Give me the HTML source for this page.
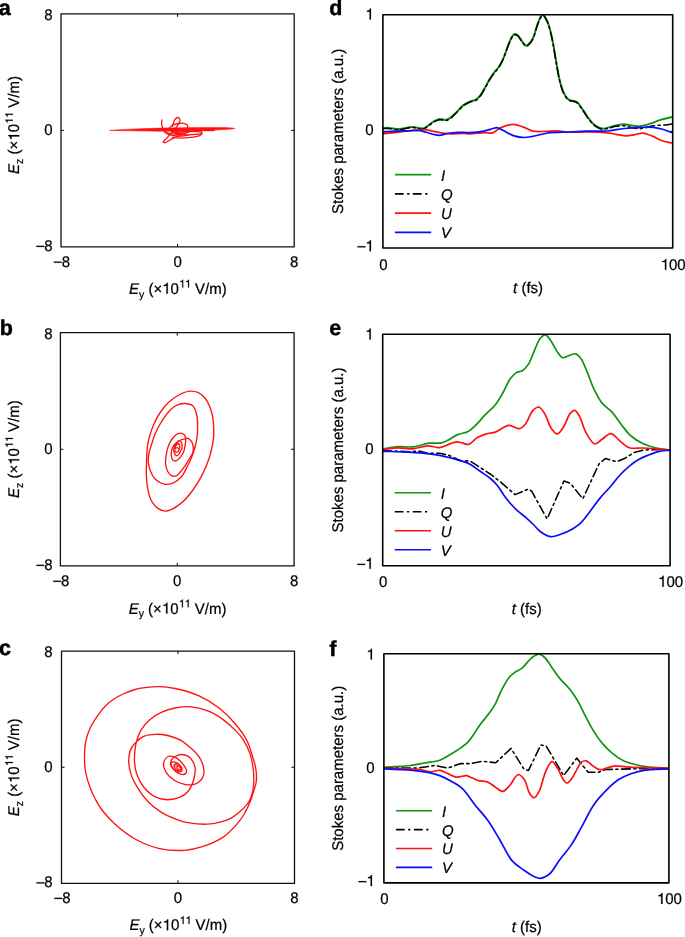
<!DOCTYPE html>
<html><head><meta charset="utf-8"><style>
html,body{margin:0;padding:0;background:#fff;}
body{width:685px;height:937px;overflow:hidden;}
svg{display:block;font-family:"Liberation Sans", sans-serif;}
svg{will-change:transform;text-rendering:geometricPrecision;}
</style></head><body>
<svg width="685" height="937" viewBox="0 0 685 937">
<rect width="685" height="937" fill="#fff"/>
<rect x="61.00" y="13.80" width="233.20" height="233.10" fill="none" stroke="#111" stroke-width="1.3" stroke-linejoin="round"/>
<line x1="61.00" y1="130.35" x2="64.00" y2="130.35" stroke="#000" stroke-width="1" />
<line x1="294.20" y1="130.35" x2="291.20" y2="130.35" stroke="#000" stroke-width="1" />
<line x1="177.60" y1="246.90" x2="177.60" y2="243.90" stroke="#000" stroke-width="1" />
<line x1="177.60" y1="13.80" x2="177.60" y2="16.80" stroke="#000" stroke-width="1" />
<g transform="translate(44.26,19.73) scale(1,1.03)" stroke="#000" stroke-width="0.22"><text x="0.000" y="0" font-size="15">8</text></g>
<g transform="translate(44.26,135.18) scale(1,1.03)" stroke="#000" stroke-width="0.22"><text x="0.000" y="0" font-size="15">0</text></g>
<g transform="translate(35.92,250.73) scale(1,1.03)" stroke="#000" stroke-width="0.22"><path transform="translate(0.000,0) scale(15)" d="M0.035,-0.318 L0.556,-0.318 L0.556,-0.245 L0.035,-0.245 Z" fill="#000" stroke-width="0.0147"/><text x="8.340" y="0" font-size="15">8</text></g>
<g transform="translate(53.36,266.53) scale(1,1.03)" stroke="#000" stroke-width="0.22"><path transform="translate(0.000,0) scale(15)" d="M0.035,-0.318 L0.556,-0.318 L0.556,-0.245 L0.035,-0.245 Z" fill="#000" stroke-width="0.0147"/><text x="8.340" y="0" font-size="15">8</text></g>
<g transform="translate(173.43,266.53) scale(1,1.03)" stroke="#000" stroke-width="0.22"><text x="0.000" y="0" font-size="15">0</text></g>
<g transform="translate(290.03,266.53) scale(1,1.03)" stroke="#000" stroke-width="0.22"><text x="0.000" y="0" font-size="15">8</text></g>
<g transform="translate(129.01,293.80) scale(1,1.03)" stroke="#000" stroke-width="0.22"><text x="0.00" y="0" font-size="15.0" font-style="italic">E</text><text x="10.01" y="3.6" font-size="10.5">y</text><text x="15.26" y="0" font-size="15.0" xml:space="preserve"> (×</text><path transform="translate(33.18,0) scale(15.0)" d="M0.373,0 L0.373,-0.709 L0.318,-0.709 C0.300,-0.650 0.230,-0.575 0.105,-0.565 L0.105,-0.500 L0.283,-0.500 L0.283,0 Z" fill="#000" stroke-width="0.0147"/><text x="41.52" y="0" font-size="15.0">0</text><path transform="translate(50.26,-6.2) scale(10.5)" d="M0.373,0 L0.373,-0.709 L0.318,-0.709 C0.300,-0.650 0.230,-0.575 0.105,-0.565 L0.105,-0.500 L0.283,-0.500 L0.283,0 Z" fill="#000" stroke-width="0.0210"/><path transform="translate(56.10,-6.2) scale(10.5)" d="M0.373,0 L0.373,-0.709 L0.318,-0.709 C0.300,-0.650 0.230,-0.575 0.105,-0.565 L0.105,-0.500 L0.283,-0.500 L0.283,0 Z" fill="#000" stroke-width="0.0210"/><text x="61.94" y="0" font-size="15.0" xml:space="preserve"> V/m)</text></g>
<g transform="translate(19.3,125.00) rotate(-90) translate(-48.89,0) scale(1,1.03)" stroke="#000" stroke-width="0.22"><text x="0.00" y="0" font-size="15.0" font-style="italic">E</text><text x="10.01" y="3.6" font-size="10.5">z</text><text x="15.26" y="0" font-size="15.0" xml:space="preserve"> (×</text><path transform="translate(33.18,0) scale(15.0)" d="M0.373,0 L0.373,-0.709 L0.318,-0.709 C0.300,-0.650 0.230,-0.575 0.105,-0.565 L0.105,-0.500 L0.283,-0.500 L0.283,0 Z" fill="#000" stroke-width="0.0147"/><text x="41.52" y="0" font-size="15.0">0</text><path transform="translate(50.26,-6.2) scale(10.5)" d="M0.373,0 L0.373,-0.709 L0.318,-0.709 C0.300,-0.650 0.230,-0.575 0.105,-0.565 L0.105,-0.500 L0.283,-0.500 L0.283,0 Z" fill="#000" stroke-width="0.0210"/><path transform="translate(56.10,-6.2) scale(10.5)" d="M0.373,0 L0.373,-0.709 L0.318,-0.709 C0.300,-0.650 0.230,-0.575 0.105,-0.565 L0.105,-0.500 L0.283,-0.500 L0.283,0 Z" fill="#000" stroke-width="0.0210"/><text x="61.94" y="0" font-size="15.0" xml:space="preserve"> V/m)</text></g>
<text transform="translate(-1.20,15.00) scale(1,1.0)" font-size="21.5" text-anchor="start" font-weight="bold" font-style="normal" stroke="#000" stroke-width="0.45">a</text>
<rect x="60.40" y="332.70" width="233.70" height="233.20" fill="none" stroke="#111" stroke-width="1.3" stroke-linejoin="round"/>
<line x1="60.40" y1="449.30" x2="63.40" y2="449.30" stroke="#000" stroke-width="1" />
<line x1="294.10" y1="449.30" x2="291.10" y2="449.30" stroke="#000" stroke-width="1" />
<line x1="177.25" y1="565.90" x2="177.25" y2="562.90" stroke="#000" stroke-width="1" />
<line x1="177.25" y1="332.70" x2="177.25" y2="335.70" stroke="#000" stroke-width="1" />
<g transform="translate(44.26,338.63) scale(1,1.03)" stroke="#000" stroke-width="0.22"><text x="0.000" y="0" font-size="15">8</text></g>
<g transform="translate(44.26,454.13) scale(1,1.03)" stroke="#000" stroke-width="0.22"><text x="0.000" y="0" font-size="15">0</text></g>
<g transform="translate(35.92,569.73) scale(1,1.03)" stroke="#000" stroke-width="0.22"><path transform="translate(0.000,0) scale(15)" d="M0.035,-0.318 L0.556,-0.318 L0.556,-0.245 L0.035,-0.245 Z" fill="#000" stroke-width="0.0147"/><text x="8.340" y="0" font-size="15">8</text></g>
<g transform="translate(52.76,585.63) scale(1,1.03)" stroke="#000" stroke-width="0.22"><path transform="translate(0.000,0) scale(15)" d="M0.035,-0.318 L0.556,-0.318 L0.556,-0.245 L0.035,-0.245 Z" fill="#000" stroke-width="0.0147"/><text x="8.340" y="0" font-size="15">8</text></g>
<g transform="translate(173.08,585.63) scale(1,1.03)" stroke="#000" stroke-width="0.22"><text x="0.000" y="0" font-size="15">0</text></g>
<g transform="translate(289.93,585.63) scale(1,1.03)" stroke="#000" stroke-width="0.22"><text x="0.000" y="0" font-size="15">8</text></g>
<g transform="translate(128.66,613.60) scale(1,1.03)" stroke="#000" stroke-width="0.22"><text x="0.00" y="0" font-size="15.0" font-style="italic">E</text><text x="10.01" y="3.6" font-size="10.5">y</text><text x="15.26" y="0" font-size="15.0" xml:space="preserve"> (×</text><path transform="translate(33.18,0) scale(15.0)" d="M0.373,0 L0.373,-0.709 L0.318,-0.709 C0.300,-0.650 0.230,-0.575 0.105,-0.565 L0.105,-0.500 L0.283,-0.500 L0.283,0 Z" fill="#000" stroke-width="0.0147"/><text x="41.52" y="0" font-size="15.0">0</text><path transform="translate(50.26,-6.2) scale(10.5)" d="M0.373,0 L0.373,-0.709 L0.318,-0.709 C0.300,-0.650 0.230,-0.575 0.105,-0.565 L0.105,-0.500 L0.283,-0.500 L0.283,0 Z" fill="#000" stroke-width="0.0210"/><path transform="translate(56.10,-6.2) scale(10.5)" d="M0.373,0 L0.373,-0.709 L0.318,-0.709 C0.300,-0.650 0.230,-0.575 0.105,-0.565 L0.105,-0.500 L0.283,-0.500 L0.283,0 Z" fill="#000" stroke-width="0.0210"/><text x="61.94" y="0" font-size="15.0" xml:space="preserve"> V/m)</text></g>
<g transform="translate(19.3,449.10) rotate(-90) translate(-48.89,0) scale(1,1.03)" stroke="#000" stroke-width="0.22"><text x="0.00" y="0" font-size="15.0" font-style="italic">E</text><text x="10.01" y="3.6" font-size="10.5">z</text><text x="15.26" y="0" font-size="15.0" xml:space="preserve"> (×</text><path transform="translate(33.18,0) scale(15.0)" d="M0.373,0 L0.373,-0.709 L0.318,-0.709 C0.300,-0.650 0.230,-0.575 0.105,-0.565 L0.105,-0.500 L0.283,-0.500 L0.283,0 Z" fill="#000" stroke-width="0.0147"/><text x="41.52" y="0" font-size="15.0">0</text><path transform="translate(50.26,-6.2) scale(10.5)" d="M0.373,0 L0.373,-0.709 L0.318,-0.709 C0.300,-0.650 0.230,-0.575 0.105,-0.565 L0.105,-0.500 L0.283,-0.500 L0.283,0 Z" fill="#000" stroke-width="0.0210"/><path transform="translate(56.10,-6.2) scale(10.5)" d="M0.373,0 L0.373,-0.709 L0.318,-0.709 C0.300,-0.650 0.230,-0.575 0.105,-0.565 L0.105,-0.500 L0.283,-0.500 L0.283,0 Z" fill="#000" stroke-width="0.0210"/><text x="61.94" y="0" font-size="15.0" xml:space="preserve"> V/m)</text></g>
<text transform="translate(-0.20,335.00) scale(1,1.0)" font-size="21.5" text-anchor="start" font-weight="bold" font-style="normal" stroke="#000" stroke-width="0.45">b</text>
<rect x="61.50" y="651.10" width="233.00" height="232.30" fill="none" stroke="#111" stroke-width="1.3" stroke-linejoin="round"/>
<line x1="61.50" y1="767.25" x2="64.50" y2="767.25" stroke="#000" stroke-width="1" />
<line x1="294.50" y1="767.25" x2="291.50" y2="767.25" stroke="#000" stroke-width="1" />
<line x1="178.00" y1="883.40" x2="178.00" y2="880.40" stroke="#000" stroke-width="1" />
<line x1="178.00" y1="651.10" x2="178.00" y2="654.10" stroke="#000" stroke-width="1" />
<g transform="translate(44.26,657.03) scale(1,1.03)" stroke="#000" stroke-width="0.22"><text x="0.000" y="0" font-size="15">8</text></g>
<g transform="translate(44.26,772.08) scale(1,1.03)" stroke="#000" stroke-width="0.22"><text x="0.000" y="0" font-size="15">0</text></g>
<g transform="translate(35.92,887.23) scale(1,1.03)" stroke="#000" stroke-width="0.22"><path transform="translate(0.000,0) scale(15)" d="M0.035,-0.318 L0.556,-0.318 L0.556,-0.245 L0.035,-0.245 Z" fill="#000" stroke-width="0.0147"/><text x="8.340" y="0" font-size="15">8</text></g>
<g transform="translate(53.86,902.73) scale(1,1.03)" stroke="#000" stroke-width="0.22"><path transform="translate(0.000,0) scale(15)" d="M0.035,-0.318 L0.556,-0.318 L0.556,-0.245 L0.035,-0.245 Z" fill="#000" stroke-width="0.0147"/><text x="8.340" y="0" font-size="15">8</text></g>
<g transform="translate(173.83,902.73) scale(1,1.03)" stroke="#000" stroke-width="0.22"><text x="0.000" y="0" font-size="15">0</text></g>
<g transform="translate(290.33,902.73) scale(1,1.03)" stroke="#000" stroke-width="0.22"><text x="0.000" y="0" font-size="15">8</text></g>
<g transform="translate(129.41,930.30) scale(1,1.03)" stroke="#000" stroke-width="0.22"><text x="0.00" y="0" font-size="15.0" font-style="italic">E</text><text x="10.01" y="3.6" font-size="10.5">y</text><text x="15.26" y="0" font-size="15.0" xml:space="preserve"> (×</text><path transform="translate(33.18,0) scale(15.0)" d="M0.373,0 L0.373,-0.709 L0.318,-0.709 C0.300,-0.650 0.230,-0.575 0.105,-0.565 L0.105,-0.500 L0.283,-0.500 L0.283,0 Z" fill="#000" stroke-width="0.0147"/><text x="41.52" y="0" font-size="15.0">0</text><path transform="translate(50.26,-6.2) scale(10.5)" d="M0.373,0 L0.373,-0.709 L0.318,-0.709 C0.300,-0.650 0.230,-0.575 0.105,-0.565 L0.105,-0.500 L0.283,-0.500 L0.283,0 Z" fill="#000" stroke-width="0.0210"/><path transform="translate(56.10,-6.2) scale(10.5)" d="M0.373,0 L0.373,-0.709 L0.318,-0.709 C0.300,-0.650 0.230,-0.575 0.105,-0.565 L0.105,-0.500 L0.283,-0.500 L0.283,0 Z" fill="#000" stroke-width="0.0210"/><text x="61.94" y="0" font-size="15.0" xml:space="preserve"> V/m)</text></g>
<g transform="translate(19.3,767.40) rotate(-90) translate(-48.89,0) scale(1,1.03)" stroke="#000" stroke-width="0.22"><text x="0.00" y="0" font-size="15.0" font-style="italic">E</text><text x="10.01" y="3.6" font-size="10.5">z</text><text x="15.26" y="0" font-size="15.0" xml:space="preserve"> (×</text><path transform="translate(33.18,0) scale(15.0)" d="M0.373,0 L0.373,-0.709 L0.318,-0.709 C0.300,-0.650 0.230,-0.575 0.105,-0.565 L0.105,-0.500 L0.283,-0.500 L0.283,0 Z" fill="#000" stroke-width="0.0147"/><text x="41.52" y="0" font-size="15.0">0</text><path transform="translate(50.26,-6.2) scale(10.5)" d="M0.373,0 L0.373,-0.709 L0.318,-0.709 C0.300,-0.650 0.230,-0.575 0.105,-0.565 L0.105,-0.500 L0.283,-0.500 L0.283,0 Z" fill="#000" stroke-width="0.0210"/><path transform="translate(56.10,-6.2) scale(10.5)" d="M0.373,0 L0.373,-0.709 L0.318,-0.709 C0.300,-0.650 0.230,-0.575 0.105,-0.565 L0.105,-0.500 L0.283,-0.500 L0.283,0 Z" fill="#000" stroke-width="0.0210"/><text x="61.94" y="0" font-size="15.0" xml:space="preserve"> V/m)</text></g>
<text transform="translate(-0.90,655.40) scale(1,1.0)" font-size="21.5" text-anchor="start" font-weight="bold" font-style="normal" stroke="#000" stroke-width="0.45">c</text>
<path d="M109.60,130.35 L120.00,129.65 L130.00,129.15 L145.00,128.55 L160.00,128.10 L180.00,127.70 L200.00,127.40 L215.00,127.45 L225.00,127.60 L232.00,127.90 L235.20,128.45 L232.00,129.10 L225.00,129.60 L215.50,129.95 L214.00,130.90 L200.00,130.90 L180.00,131.10 L160.00,131.30 L145.00,131.05 L130.00,130.85 L120.00,130.65 L109.60,130.40Z" fill="#ff1111" stroke="#ff1111" stroke-width="0.5" stroke-linejoin="round"/>
<path d="M162.00,119.80 C161.87,121.03 161.53,122.28 161.60,123.50 C161.67,124.71 162.04,125.90 162.40,127.10 C162.77,128.34 163.08,129.71 163.80,130.80 C164.54,131.92 165.62,132.97 166.80,133.70 C168.03,134.46 169.59,134.84 171.10,135.20 C172.71,135.59 174.34,135.77 176.20,135.90 C178.41,136.05 181.28,136.05 183.50,135.90 C185.38,135.77 186.97,135.43 188.70,135.20" fill="none" stroke="#ff1111" stroke-width="1.3" stroke-linejoin="round" stroke-linecap="round" />
<path d="M172.60,126.40 C172.97,124.93 173.18,123.33 173.70,122.00 C174.17,120.79 174.69,119.46 175.50,118.70 C176.21,118.04 177.34,117.39 178.10,117.50 C178.79,117.60 179.65,118.37 179.90,119.10 C180.21,120.02 179.66,121.62 179.20,122.80 C178.72,124.05 177.82,125.22 177.00,126.40 C176.13,127.65 175.17,128.91 174.10,130.10 C172.98,131.35 171.59,132.40 170.40,133.70 C169.15,135.06 168.03,136.69 166.80,138.10 C165.60,139.48 162.88,141.45 163.10,142.10 C163.24,142.51 164.46,142.62 165.30,142.50 C166.54,142.32 168.19,141.11 169.70,140.30 C171.35,139.42 173.06,138.14 174.80,137.40 C176.46,136.70 178.20,136.40 179.90,135.90" fill="none" stroke="#ff1111" stroke-width="1.3" stroke-linejoin="round" stroke-linecap="round" />
<path d="M169.70,127.50 C170.67,126.67 171.38,125.64 172.60,125.00 C174.13,124.20 176.51,123.78 178.40,123.50 C180.14,123.24 181.97,123.00 183.50,123.30 C184.87,123.57 186.56,124.16 187.20,125.00 C187.70,125.66 187.75,126.76 187.60,127.50 C187.47,128.18 186.87,128.70 186.50,129.30" fill="none" stroke="#ff1111" stroke-width="1.3" stroke-linejoin="round" stroke-linecap="round" />
<path d="M164.60,131.50 C166.07,132.10 167.32,132.84 169.00,133.30 C171.08,133.87 173.54,134.15 176.20,134.40 C179.47,134.71 183.74,134.82 187.20,134.80 C190.30,134.79 193.38,134.71 196.00,134.40 C198.14,134.15 201.44,134.02 201.80,133.30 C201.98,132.93 201.61,132.24 201.10,131.90 C200.06,131.21 196.86,131.57 194.50,131.50 C191.78,131.42 188.63,131.50 185.70,131.50" fill="none" stroke="#ff1111" stroke-width="1.3" stroke-linejoin="round" stroke-linecap="round" />
<path d="M172.60,137.40 C175.03,137.63 177.22,138.06 179.90,138.10 C183.17,138.15 187.45,137.82 190.80,137.40 C193.71,137.04 196.86,136.73 198.90,135.90 C200.32,135.32 201.10,134.43 202.20,133.70" fill="none" stroke="#ff1111" stroke-width="1.3" stroke-linejoin="round" stroke-linecap="round" />
<path d="M170.00,130.50 C171.67,131.17 173.16,132.08 175.00,132.50 C177.10,132.98 179.76,133.01 182.00,133.00 C184.08,132.99 186.59,133.04 188.00,132.50 C188.91,132.15 189.33,131.50 190.00,131.00" fill="none" stroke="#ff1111" stroke-width="1.3" stroke-linejoin="round" stroke-linecap="round" />
<path d="M172.00,131.50 C173.33,132.17 174.55,133.08 176.00,133.50 C177.54,133.94 179.33,133.95 181.00,134.00 C182.66,134.05 184.33,133.87 186.00,133.80" fill="none" stroke="#ff1111" stroke-width="1.3" stroke-linejoin="round" stroke-linecap="round" />
<path d="M171.00,129.50 C172.33,130.00 173.57,130.62 175.00,131.00 C176.55,131.41 178.33,131.72 180.00,131.80 C181.66,131.88 183.56,131.78 185.00,131.50 C186.14,131.28 187.00,130.83 188.00,130.50" fill="none" stroke="#ff1111" stroke-width="1.3" stroke-linejoin="round" stroke-linecap="round" />
<path d="M174.00,128.80 C175.33,129.27 176.57,129.91 178.00,130.20 C179.55,130.51 181.33,130.40 183.00,130.50" fill="none" stroke="#ff1111" stroke-width="1.3" stroke-linejoin="round" stroke-linecap="round" />
<path d="M189.90,391.20 C192.86,390.95 195.83,391.51 198.30,392.60 C200.68,393.65 202.70,395.44 204.50,397.50 C206.51,399.80 208.18,402.97 209.50,406.00 C210.86,409.12 211.82,412.64 212.50,416.00 C213.17,419.28 213.41,422.46 213.60,425.90 C213.81,429.63 213.88,434.15 213.60,437.60 C213.38,440.36 212.98,442.16 212.40,445.00 C211.59,448.94 210.51,454.21 208.90,459.00 C207.11,464.32 204.62,470.14 201.90,475.40 C199.19,480.64 196.12,485.82 192.60,490.50 C189.11,495.14 185.30,499.94 180.90,503.40 C176.69,506.71 171.19,510.57 166.90,511.00 C163.53,511.33 160.15,509.94 157.50,508.10 C154.68,506.15 152.36,502.63 150.70,499.30 C148.96,495.81 148.22,491.55 147.50,487.50 C146.77,483.35 146.56,479.13 146.40,474.70 C146.23,469.93 146.40,464.76 146.60,459.80 C146.80,454.86 146.96,449.31 147.60,445.00 C148.11,441.58 148.77,439.10 149.70,435.90 C150.77,432.22 152.09,428.03 153.80,424.20 C155.57,420.23 157.74,416.13 160.20,412.50 C162.62,408.94 165.29,405.51 168.40,402.60 C171.52,399.68 175.21,396.92 178.90,395.00 C182.40,393.18 186.45,391.49 189.90,391.20Z" fill="none" stroke="#ff1111" stroke-width="1.35" stroke-linejoin="round" stroke-linecap="round" />
<path d="M185.00,403.50 C187.55,403.63 190.76,404.08 192.70,405.80 C194.92,407.78 196.08,412.08 196.90,415.50 C197.74,419.01 197.56,423.05 197.60,426.60 C197.63,429.86 197.57,432.83 197.20,436.00 C196.82,439.30 196.10,442.78 195.30,446.00 C194.53,449.10 193.69,451.89 192.50,455.00 C191.16,458.52 189.32,462.41 187.50,466.00 C185.68,469.58 184.09,473.64 181.60,476.50 C179.29,479.16 176.30,481.53 173.30,482.80 C170.50,483.99 167.22,484.71 164.30,484.20 C161.21,483.66 157.63,481.55 155.30,479.30 C153.04,477.12 151.58,474.00 150.40,471.00 C149.18,467.91 148.37,464.26 148.20,461.00 C148.04,457.93 148.61,454.79 149.20,452.00 C149.73,449.49 150.61,447.49 151.40,445.00 C152.30,442.16 153.09,438.96 154.30,435.90 C155.59,432.63 157.24,429.21 159.00,426.00 C160.77,422.77 162.79,419.50 164.90,416.60 C166.90,413.86 169.00,411.02 171.30,409.00 C173.31,407.24 175.40,405.82 177.70,404.90 C179.97,403.99 182.55,403.38 185.00,403.50Z" fill="none" stroke="#ff1111" stroke-width="1.35" stroke-linejoin="round" stroke-linecap="round" />
<path d="M183.40,439.10 C184.92,438.70 186.65,437.92 188.00,438.30 C189.35,438.68 190.63,440.05 191.50,441.40 C192.50,442.95 193.11,445.32 193.30,447.30 C193.49,449.22 193.26,451.35 192.70,453.10 C192.18,454.73 191.13,455.93 190.20,457.50 C189.10,459.35 187.72,461.61 186.50,463.50 C185.39,465.23 184.41,466.78 183.20,468.40 C181.92,470.11 180.30,472.18 179.00,473.50 C178.05,474.47 177.39,475.40 176.30,475.80 C175.10,476.24 173.33,476.35 172.00,475.80 C170.42,475.15 168.75,473.30 167.70,471.50 C166.51,469.47 165.88,466.60 165.60,464.00 C165.31,461.28 165.64,458.47 166.10,455.50 C166.62,452.11 167.56,447.82 168.80,444.80 C169.81,442.34 171.06,440.32 172.50,438.50 C173.83,436.82 175.43,435.09 177.00,434.20 C178.28,433.47 179.74,432.95 181.00,433.10 C182.24,433.24 183.72,433.99 184.50,435.00 C185.37,436.11 185.58,438.04 185.70,439.70 C185.83,441.52 185.45,443.49 185.10,445.50 C184.71,447.74 184.31,450.42 183.40,452.50 C182.56,454.42 181.26,456.17 180.00,457.60 C178.87,458.88 177.58,460.43 176.30,460.80 C175.26,461.10 173.92,460.95 173.10,460.30 C172.07,459.48 171.42,457.25 171.20,455.50 C170.95,453.55 171.32,451.07 172.00,449.10 C172.67,447.17 173.98,445.24 175.20,443.80 C176.25,442.56 177.37,441.58 178.70,440.80 C180.09,439.99 181.82,439.52 183.40,439.10Z" fill="none" stroke="#ff1111" stroke-width="1.35" stroke-linejoin="round" stroke-linecap="round" />
<path d="M179.90,440.60 C180.95,440.82 182.06,443.76 182.20,445.50 C182.35,447.37 181.49,449.78 180.50,451.50 C179.54,453.17 177.53,455.88 176.40,455.70 C175.25,455.52 173.80,452.11 173.70,450.20 C173.60,448.22 174.86,445.65 176.00,444.00 C177.01,442.54 178.87,440.38 179.90,440.60Z" fill="none" stroke="#ff1111" stroke-width="1.35" stroke-linejoin="round" stroke-linecap="round" />
<path d="M178.50,443.50 C179.14,443.66 179.66,445.74 179.60,447.00 C179.53,448.53 178.48,451.59 177.50,452.00 C176.81,452.29 175.41,451.69 175.00,451.00 C174.46,450.10 174.89,447.76 175.50,446.50 C176.09,445.28 177.81,443.33 178.50,443.50Z" fill="none" stroke="#ff1111" stroke-width="1.35" stroke-linejoin="round" stroke-linecap="round" />
<path d="M175.50,448.50 C176.17,448.17 176.99,447.36 177.50,447.50 C177.96,447.62 178.17,448.50 178.50,449.00" fill="none" stroke="#ff1111" stroke-width="1.1" stroke-linejoin="round" stroke-linecap="round" />
<path d="M145.00,687.70 C149.14,687.17 153.78,686.62 158.50,686.70 C163.73,686.79 169.04,687.27 175.00,688.50 C182.34,690.01 191.55,692.50 199.10,695.90 C206.54,699.26 213.90,703.93 220.00,708.70 C225.56,713.05 230.09,717.82 234.50,723.00 C238.97,728.24 243.63,734.37 246.60,740.00 C249.15,744.83 250.39,749.83 251.90,754.40 C253.24,758.45 254.53,762.20 255.30,766.00 C256.02,769.56 256.46,773.27 256.50,776.50 C256.53,779.26 256.32,781.65 255.80,784.20 C255.27,786.82 254.11,789.41 253.30,792.00 C252.51,794.55 252.11,796.71 251.00,799.60 C249.43,803.69 246.76,809.67 244.20,814.00 C241.88,817.92 239.61,821.07 236.50,824.60 C232.83,828.77 228.47,833.55 223.20,837.10 C217.29,841.08 209.06,844.48 202.30,846.70 C196.37,848.65 191.41,849.88 185.00,850.30 C177.14,850.81 166.84,850.20 158.50,848.30 C150.55,846.49 143.12,843.41 136.00,839.50 C128.63,835.45 121.04,829.50 115.10,824.20 C109.97,819.62 105.40,814.47 102.00,810.00 C99.35,806.51 97.70,803.48 95.80,800.00 C93.85,796.43 92.08,792.95 90.50,788.80 C88.65,783.94 86.70,777.99 85.70,772.50 C84.72,767.12 84.48,761.47 84.50,756.20 C84.52,751.22 84.72,746.47 85.70,741.70 C86.70,736.83 88.36,731.86 90.50,727.30 C92.65,722.72 95.84,718.13 98.60,714.30 C100.99,710.99 103.26,708.10 105.90,705.50 C108.41,703.03 111.05,700.96 114.00,699.00 C117.12,696.93 120.69,695.08 124.20,693.50 C127.72,691.92 131.51,690.48 135.10,689.50 C138.44,688.59 141.43,688.16 145.00,687.70Z" fill="none" stroke="#ff1111" stroke-width="1.35" stroke-linejoin="round" stroke-linecap="round" />
<path d="M207.10,824.20 C201.32,824.41 192.77,823.44 187.80,822.60 C184.59,822.06 183.09,821.67 180.00,820.60 C175.14,818.92 167.20,815.83 161.80,812.60 C156.84,809.64 152.51,806.21 148.60,802.30 C144.71,798.41 141.33,793.84 138.40,789.20 C135.50,784.60 132.72,779.40 131.10,774.60 C129.66,770.35 128.89,765.74 128.70,762.00 C128.55,759.04 128.93,756.38 129.40,754.00 C129.80,752.00 130.12,750.44 131.10,748.60 C132.36,746.24 134.69,743.38 136.90,741.30 C139.06,739.26 141.33,737.37 144.20,736.20 C147.51,734.86 151.99,734.41 155.90,734.30 C159.79,734.19 163.70,734.62 167.60,735.50 C171.73,736.43 176.32,737.95 180.00,739.90 C183.39,741.69 186.02,743.91 189.00,746.50 C192.39,749.46 196.61,752.96 199.10,756.90 C201.52,760.72 203.55,765.80 203.90,769.70 C204.18,772.84 203.54,776.11 202.30,778.40 C201.23,780.39 199.31,781.93 197.50,783.00 C195.79,784.02 193.84,784.54 191.80,784.80 C189.56,785.08 187.14,784.96 184.60,784.40 C181.51,783.72 177.71,782.40 174.70,780.50 C171.55,778.52 168.07,775.62 166.20,772.60 C164.50,769.85 163.08,766.16 163.50,763.40 C163.89,760.83 166.08,757.45 168.10,756.50 C169.91,755.65 172.70,756.47 174.70,757.20 C176.66,757.92 178.45,759.41 180.00,760.80 C181.50,762.15 182.79,763.81 183.90,765.40 C184.94,766.89 186.26,768.55 186.50,770.00 C186.69,771.15 186.53,772.53 185.90,773.30 C185.25,774.09 183.83,774.59 182.60,774.60 C181.04,774.61 178.86,773.52 177.30,772.60 C175.82,771.73 174.50,770.53 173.40,769.30 C172.35,768.12 171.16,766.87 170.80,765.40 C170.42,763.83 170.70,761.56 171.40,760.10 C172.06,758.73 173.29,757.69 174.70,756.80 C176.43,755.71 179.09,754.59 181.30,754.50 C183.49,754.41 186.02,755.13 187.90,756.20 C189.74,757.25 191.32,758.94 192.50,760.80 C193.78,762.82 194.76,765.46 195.10,768.00 C195.46,770.68 194.93,773.69 194.40,776.50 C193.85,779.39 192.99,782.46 191.80,785.10 C190.66,787.61 189.38,790.02 187.50,792.00 C185.50,794.10 182.96,795.94 180.00,797.20 C176.51,798.69 171.67,799.72 167.60,799.70 C163.64,799.68 159.60,798.97 155.90,797.20 C151.75,795.21 147.37,791.47 144.20,787.70 C141.04,783.94 138.52,779.06 136.90,774.60 C135.40,770.48 134.82,765.97 134.50,762.00 C134.22,758.49 134.50,755.26 134.80,752.00 C135.08,748.86 135.32,746.09 136.20,742.80 C137.28,738.74 138.94,733.54 141.30,729.60 C143.60,725.76 146.71,722.31 150.10,719.40 C153.53,716.46 157.65,714.00 161.80,712.10 C165.95,710.20 170.33,708.89 175.00,708.00 C180.05,707.04 185.62,706.32 191.10,706.80 C197.00,707.32 203.64,709.10 209.20,711.40 C214.50,713.60 219.34,716.85 223.80,720.10 C228.07,723.21 232.04,726.81 235.50,730.40 C238.71,733.73 241.61,737.01 244.00,740.80 C246.43,744.66 248.41,749.08 249.90,753.40 C251.36,757.65 252.25,762.21 252.90,766.50 C253.51,770.56 253.83,774.38 253.80,778.50 C253.77,782.87 253.53,787.95 252.60,792.00 C251.80,795.51 250.88,798.42 249.00,801.50 C246.76,805.15 242.66,809.16 239.40,812.10 C236.58,814.64 233.96,816.73 230.80,818.40 C227.52,820.13 223.81,821.24 220.00,822.20 C215.94,823.22 211.84,824.03 207.10,824.20Z" fill="none" stroke="#ff1111" stroke-width="1.35" stroke-linejoin="round" stroke-linecap="round" />
<path d="M181.66,771.14 C181.22,771.67 180.20,771.91 179.37,771.91 C178.36,771.90 177.07,771.35 176.02,770.76 C174.90,770.13 173.72,769.13 172.90,768.14 C172.14,767.21 171.37,766.04 171.19,765.04 C171.04,764.22 171.10,763.18 171.54,762.66 C171.98,762.13 173.00,761.89 173.83,761.89 C174.84,761.90 176.13,762.45 177.18,763.04 C178.30,763.67 179.48,764.67 180.30,765.66 C181.06,766.59 181.83,767.76 182.01,768.76 C182.16,769.58 182.10,770.62 181.66,771.14Z" fill="none" stroke="#ff1111" stroke-width="1.3" stroke-linejoin="round" stroke-linecap="round" />
<path d="M180.64,770.34 C180.29,770.69 179.59,770.83 179.02,770.80 C178.35,770.76 177.51,770.36 176.86,769.92 C176.16,769.46 175.44,768.74 174.98,768.04 C174.54,767.39 174.14,766.55 174.10,765.88 C174.07,765.31 174.21,764.61 174.56,764.26 C174.91,763.91 175.61,763.77 176.18,763.80 C176.85,763.84 177.69,764.24 178.34,764.68 C179.04,765.14 179.76,765.86 180.22,766.56 C180.66,767.21 181.06,768.05 181.10,768.72 C181.13,769.29 180.99,769.99 180.64,770.34Z" fill="none" stroke="#ff1111" stroke-width="1.2" stroke-linejoin="round" stroke-linecap="round" />
<path d="M180.08,769.76 C179.84,769.96 179.32,769.95 178.94,769.84 C178.49,769.70 177.95,769.25 177.60,768.84 C177.26,768.42 176.90,767.81 176.85,767.35 C176.81,766.96 176.89,766.44 177.12,766.24 C177.36,766.04 177.88,766.05 178.26,766.16 C178.71,766.30 179.25,766.75 179.60,767.16 C179.94,767.58 180.30,768.19 180.35,768.65 C180.39,769.04 180.31,769.56 180.08,769.76Z" fill="none" stroke="#ff1111" stroke-width="1.1" stroke-linejoin="round" stroke-linecap="round" />
<path d="M177.43,766.63 C177.27,766.81 176.90,766.89 176.61,766.87 C176.28,766.84 175.85,766.61 175.56,766.37 C175.27,766.12 174.96,765.74 174.88,765.41 C174.81,765.14 174.82,764.75 174.97,764.57 C175.13,764.39 175.50,764.31 175.79,764.33 C176.12,764.36 176.55,764.59 176.84,764.83 C177.13,765.08 177.44,765.46 177.52,765.79 C177.59,766.06 177.58,766.45 177.43,766.63Z" fill="none" stroke="#ff1111" stroke-width="1.0" stroke-linejoin="round" stroke-linecap="round" />
<clipPath id="clipd"><rect x="382.9" y="14.7" width="289.80000000000007" height="233.3"/></clipPath>
<line x1="382.90" y1="131.35" x2="385.90" y2="131.35" stroke="#000" stroke-width="1" />
<line x1="672.70" y1="131.35" x2="669.70" y2="131.35" stroke="#000" stroke-width="1" />
<g clip-path="url(#clipd)">
<path d="M383.00,128.00 C385.00,127.97 386.73,127.79 389.00,127.90 C392.00,128.05 395.77,129.20 399.40,129.10 C403.43,128.99 407.99,126.96 412.10,126.90 C415.95,126.84 420.48,129.07 423.30,128.50 C425.22,128.11 426.22,126.85 427.80,125.80 C429.68,124.55 431.72,122.53 433.80,121.40 C435.73,120.35 437.77,119.34 439.80,119.10 C441.77,118.87 443.98,120.16 445.80,119.90 C447.44,119.66 448.78,118.90 450.30,117.90 C452.24,116.62 454.13,114.39 456.20,112.40 C458.57,110.11 461.21,106.77 463.70,104.90 C465.70,103.40 467.63,102.47 469.70,101.60 C471.73,100.75 474.19,100.78 476.00,99.70 C477.78,98.63 479.10,96.99 480.50,95.20 C482.14,93.10 483.54,90.27 485.00,87.70 C486.51,85.05 487.86,82.06 489.40,79.50 C490.84,77.12 492.34,74.86 493.90,72.80 C495.35,70.89 497.00,69.54 498.40,67.50 C500.03,65.13 501.50,62.34 502.90,59.30 C504.53,55.75 505.95,51.08 507.40,47.40 C508.67,44.18 509.79,40.78 511.10,38.40 C512.06,36.67 512.87,34.60 514.10,34.20 C515.16,33.85 516.68,34.59 517.80,35.40 C519.25,36.45 520.23,38.92 521.60,40.60 C523.00,42.32 524.55,45.47 526.10,45.60 C527.52,45.72 529.28,43.52 530.50,42.10 C531.76,40.63 532.55,39.05 533.50,36.90 C534.87,33.78 536.04,28.40 537.30,24.90 C538.30,22.11 539.19,19.36 540.30,17.50 C541.08,16.20 541.89,14.46 542.80,14.50 C544.05,14.55 545.84,18.21 547.00,20.50 C548.31,23.09 549.08,26.10 550.00,29.40 C551.12,33.41 552.06,38.07 553.00,42.90 C554.08,48.43 554.91,54.71 556.00,60.80 C557.14,67.17 558.29,74.63 559.70,80.30 C560.82,84.79 561.91,88.98 563.40,92.20 C564.52,94.63 565.88,96.84 567.20,98.20 C568.11,99.14 568.82,99.57 570.00,100.10 C571.65,100.84 574.45,100.45 576.40,101.70 C578.82,103.26 580.71,106.87 582.80,109.70 C585.02,112.71 587.01,116.50 589.30,119.30 C591.33,121.78 593.40,124.22 595.70,125.80 C597.71,127.18 599.66,128.35 602.10,128.60 C605.11,128.91 609.02,127.13 612.50,126.40 C615.99,125.66 619.49,124.30 623.00,124.20 C626.49,124.10 630.21,125.49 633.50,125.80 C636.39,126.07 638.91,126.45 641.70,126.10 C644.73,125.73 647.91,124.42 651.00,123.40 C654.14,122.36 657.00,120.95 660.40,119.90 C664.26,118.71 668.80,117.83 673.00,116.80" fill="none" stroke="#0f940f" stroke-width="2.0" stroke-linejoin="round" stroke-linecap="round" />
<path d="M383.00,128.60 C385.00,128.57 386.73,128.39 389.00,128.50 C392.00,128.65 395.77,129.80 399.40,129.70 C403.43,129.59 407.99,127.56 412.10,127.50 C415.95,127.44 420.48,129.67 423.30,129.10 C425.22,128.71 426.22,127.45 427.80,126.40 C429.68,125.15 431.72,123.13 433.80,122.00 C435.73,120.95 437.77,119.94 439.80,119.70 C441.77,119.47 443.98,120.76 445.80,120.50 C447.44,120.26 448.78,119.50 450.30,118.50 C452.24,117.22 454.13,114.99 456.20,113.00 C458.57,110.71 461.21,107.37 463.70,105.50 C465.70,104.00 467.63,103.07 469.70,102.20 C471.73,101.35 474.19,101.38 476.00,100.30 C477.78,99.23 479.10,97.59 480.50,95.80 C482.14,93.70 483.54,90.87 485.00,88.30 C486.51,85.65 487.86,82.66 489.40,80.10 C490.84,77.72 492.34,75.46 493.90,73.40 C495.35,71.49 497.00,70.14 498.40,68.10 C500.03,65.73 501.50,62.94 502.90,59.90 C504.53,56.35 505.95,51.68 507.40,48.00 C508.67,44.78 509.79,41.38 511.10,39.00 C512.06,37.27 512.87,35.20 514.10,34.80 C515.16,34.45 516.68,35.19 517.80,36.00 C519.25,37.05 520.23,39.52 521.60,41.20 C523.00,42.92 524.55,46.07 526.10,46.20 C527.52,46.32 529.28,44.12 530.50,42.70 C531.76,41.23 532.55,39.65 533.50,37.50 C534.87,34.38 536.04,29.00 537.30,25.50 C538.30,22.71 539.19,19.96 540.30,18.10 C541.08,16.80 541.89,15.06 542.80,15.10 C544.05,15.15 545.84,18.81 547.00,21.10 C548.31,23.69 549.08,26.70 550.00,30.00 C551.12,34.01 552.06,38.67 553.00,43.50 C554.08,49.03 554.91,55.31 556.00,61.40 C557.14,67.77 558.29,75.23 559.70,80.90 C560.82,85.39 561.91,89.58 563.40,92.80 C564.52,95.23 565.88,97.44 567.20,98.80 C568.11,99.74 568.82,100.17 570.00,100.70 C571.65,101.44 574.45,101.05 576.40,102.30 C578.82,103.86 580.71,107.47 582.80,110.30 C585.02,113.31 587.01,117.10 589.30,119.90 C591.33,122.38 593.40,124.82 595.70,126.40 C597.71,127.78 599.66,128.95 602.10,129.20 C605.11,129.51 612.19,127.38 612.50,127.00 C612.53,126.96 612.47,126.93 612.50,126.90 C612.83,126.54 620.84,125.55 624.20,125.80 C626.79,126.00 628.69,127.02 631.00,127.50 C633.36,127.99 635.93,128.63 638.20,128.70 C640.23,128.76 641.85,128.47 644.00,128.10 C646.77,127.62 650.07,126.32 653.40,125.80 C657.06,125.23 661.59,125.34 665.10,125.00 C668.00,124.72 670.37,124.33 673.00,124.00" fill="none" stroke="#000" stroke-width="1.5" stroke-linejoin="round" stroke-linecap="round" stroke-dasharray="8.8,3.5,2.2,3.5" stroke-linecap="butt"/>
<path d="M383.00,133.80 C387.00,133.40 391.01,133.05 395.00,132.60 C398.98,132.15 402.92,131.48 406.90,131.10 C410.89,130.72 415.61,130.61 418.90,130.30 C421.22,130.09 422.63,129.51 424.80,129.60 C427.49,129.71 430.68,130.81 433.80,131.40 C437.16,132.04 441.10,132.90 444.30,133.30 C446.97,133.63 448.94,133.74 451.70,133.80 C455.22,133.87 460.34,133.46 463.70,133.50 C466.14,133.53 467.45,133.84 470.00,133.80 C473.93,133.74 480.87,132.68 485.00,132.60 C487.90,132.54 490.02,133.54 492.40,132.90 C495.01,132.19 496.92,129.44 499.90,128.10 C503.62,126.43 509.27,124.35 513.30,124.30 C516.59,124.26 519.23,125.56 522.30,126.60 C525.71,127.76 529.11,130.29 532.80,131.10 C536.57,131.92 540.73,131.45 544.70,131.40 C548.69,131.35 552.60,130.69 556.70,130.80 C561.02,130.92 565.35,132.00 570.00,132.20 C575.10,132.42 580.40,131.83 586.10,131.90 C592.55,131.98 601.19,132.24 606.70,132.80 C610.42,133.18 612.83,133.80 616.00,134.30 C619.32,134.83 623.00,135.87 626.20,135.90 C629.03,135.93 631.48,135.25 634.20,134.80 C637.07,134.33 639.96,132.90 643.00,133.10 C646.37,133.32 650.28,135.28 653.50,136.60 C656.39,137.78 658.53,139.43 661.50,140.50 C664.93,141.74 669.17,142.37 673.00,143.30" fill="none" stroke="#ff1111" stroke-width="1.7" stroke-linejoin="round" stroke-linecap="round" />
<path d="M383.00,131.80 C387.00,131.57 391.01,131.27 395.00,131.10 C398.97,130.93 402.93,130.93 406.90,130.80 C410.89,130.67 415.41,129.91 418.90,130.30 C421.69,130.61 423.83,131.60 426.30,132.30 C428.80,133.00 431.42,134.00 433.80,134.50 C435.89,134.94 437.70,135.41 439.80,135.30 C442.17,135.18 444.58,133.98 447.30,133.50 C450.47,132.94 454.08,132.46 457.70,132.30 C461.62,132.12 465.70,132.80 470.00,132.60 C474.76,132.37 480.90,131.60 485.00,130.80 C487.92,130.23 490.24,129.38 492.40,128.80 C494.09,128.35 495.32,127.47 496.90,127.60 C498.78,127.75 500.64,129.22 502.90,130.30 C505.91,131.74 509.73,134.40 513.30,135.60 C516.71,136.75 520.29,137.43 523.80,137.50 C527.29,137.56 530.60,136.68 534.30,136.00 C538.51,135.23 542.63,133.68 547.70,133.00 C554.16,132.14 563.17,132.34 570.00,132.00 C575.80,131.71 580.40,131.27 586.10,131.10 C592.54,130.90 600.13,131.48 606.70,131.00 C612.79,130.55 618.36,129.12 624.20,128.50 C630.02,127.89 636.45,127.48 641.70,127.30 C645.99,127.15 649.74,126.91 653.40,127.30 C656.70,127.65 659.55,128.40 662.70,129.30 C666.08,130.27 669.57,131.77 673.00,133.00" fill="none" stroke="#0a0aff" stroke-width="1.7" stroke-linejoin="round" stroke-linecap="round" />
</g>
<rect x="382.90" y="14.70" width="289.80" height="233.30" fill="none" stroke="#000" stroke-width="1.6" stroke-linejoin="round"/>
<g transform="translate(365.36,19.43) scale(1,1.03)" stroke="#000" stroke-width="0.22"><path transform="translate(0.000,0) scale(15)" d="M0.373,0 L0.373,-0.709 L0.318,-0.709 C0.300,-0.650 0.230,-0.575 0.105,-0.565 L0.105,-0.500 L0.283,-0.500 L0.283,0 Z" fill="#000" stroke-width="0.0147"/></g>
<g transform="translate(365.36,135.48) scale(1,1.03)" stroke="#000" stroke-width="0.22"><text x="0.000" y="0" font-size="15">0</text></g>
<g transform="translate(357.02,251.13) scale(1,1.03)" stroke="#000" stroke-width="0.22"><path transform="translate(0.000,0) scale(15)" d="M0.035,-0.318 L0.556,-0.318 L0.556,-0.245 L0.035,-0.245 Z" fill="#000" stroke-width="0.0147"/><path transform="translate(8.340,0) scale(15)" d="M0.373,0 L0.373,-0.709 L0.318,-0.709 C0.300,-0.650 0.230,-0.575 0.105,-0.565 L0.105,-0.500 L0.283,-0.500 L0.283,0 Z" fill="#000" stroke-width="0.0147"/></g>
<g transform="translate(379.23,269.83) scale(1,1.03)" stroke="#000" stroke-width="0.22"><text x="0.000" y="0" font-size="15">0</text></g>
<g transform="translate(660.69,269.83) scale(1,1.03)" stroke="#000" stroke-width="0.22"><path transform="translate(0.000,0) scale(15)" d="M0.373,0 L0.373,-0.709 L0.318,-0.709 C0.300,-0.650 0.230,-0.575 0.105,-0.565 L0.105,-0.500 L0.283,-0.500 L0.283,0 Z" fill="#000" stroke-width="0.0147"/><text x="8.340" y="0" font-size="15">0</text><text x="16.680" y="0" font-size="15">0</text></g>
<text transform="translate(528.10,292.70) scale(1,1.03)" font-size="15" text-anchor="middle" stroke="#000" stroke-width="0.22"><tspan font-style="italic">t</tspan> (fs)</text>
<text transform="translate(343.2,131.35) rotate(-90) scale(1,1.03)" font-size="15" text-anchor="middle" stroke="#000" stroke-width="0.22">Stokes parameters (a.u.)</text>
<text transform="translate(329.20,15.00) scale(1,1.0)" font-size="21.5" text-anchor="start" font-weight="bold" font-style="normal" stroke="#000" stroke-width="0.45">d</text>
<line x1="394.90" y1="174.60" x2="431.20" y2="174.60" stroke="#0f940f" stroke-width="1.6" />
<text transform="translate(441.00,180.50) scale(1,1.03)" font-size="15" text-anchor="start" font-weight="normal" font-style="italic"  stroke="#000" stroke-width="0.22">I</text>
<line x1="394.90" y1="193.85" x2="428.50" y2="193.85" stroke="#000" stroke-width="1.6" stroke-dasharray="8.8,3.5,2.2,3.5"/>
<text transform="translate(441.00,199.75) scale(1,1.03)" font-size="15" text-anchor="start" font-weight="normal" font-style="italic"  stroke="#000" stroke-width="0.22">Q</text>
<line x1="394.90" y1="213.10" x2="431.20" y2="213.10" stroke="#ff1111" stroke-width="1.6" />
<text transform="translate(441.00,219.00) scale(1,1.03)" font-size="15" text-anchor="start" font-weight="normal" font-style="italic"  stroke="#000" stroke-width="0.22">U</text>
<line x1="394.90" y1="232.35" x2="431.20" y2="232.35" stroke="#0a0aff" stroke-width="1.6" />
<text transform="translate(441.00,238.25) scale(1,1.03)" font-size="15" text-anchor="start" font-weight="normal" font-style="italic"  stroke="#000" stroke-width="0.22">V</text>
<clipPath id="clipe"><rect x="382.7" y="334.2" width="287.40000000000003" height="231.59999999999997"/></clipPath>
<line x1="382.70" y1="450.00" x2="385.70" y2="450.00" stroke="#000" stroke-width="1" />
<line x1="670.10" y1="450.00" x2="667.10" y2="450.00" stroke="#000" stroke-width="1" />
<g clip-path="url(#clipe)">
<path d="M383.00,448.80 C387.97,448.07 392.91,446.92 397.90,446.60 C402.88,446.28 407.82,447.41 412.90,446.90 C418.28,446.36 424.23,443.83 429.30,443.20 C433.58,442.67 438.03,443.55 441.30,442.90 C443.69,442.43 445.07,441.66 447.30,440.60 C450.34,439.15 454.13,436.11 457.70,434.60 C461.11,433.16 465.12,433.26 468.20,431.60 C471.19,429.99 473.39,427.43 476.00,424.90 C478.95,422.04 481.77,418.46 484.90,415.20 C488.22,411.73 492.37,408.49 495.40,404.70 C498.35,401.01 500.48,396.99 502.90,392.80 C505.49,388.32 507.77,382.19 510.40,378.60 C512.30,376.00 514.15,373.92 516.30,372.60 C518.16,371.46 520.44,371.86 522.30,370.70 C524.49,369.33 526.50,367.09 528.30,364.40 C530.64,360.90 532.27,355.32 534.30,350.90 C536.28,346.59 537.94,340.91 540.30,338.20 C541.87,336.39 543.85,334.59 545.50,334.80 C547.34,335.03 549.02,338.21 550.70,340.50 C552.79,343.36 554.54,347.89 556.70,350.90 C558.58,353.51 560.46,357.10 562.70,357.70 C564.62,358.22 566.87,356.25 569.00,355.60 C571.17,354.94 573.61,353.32 575.60,353.80 C577.70,354.30 579.48,356.53 581.20,358.90 C583.68,362.33 585.59,368.43 587.70,373.40 C589.90,378.58 591.64,384.36 594.10,389.40 C596.46,394.24 598.97,399.23 602.10,403.10 C604.95,406.61 608.73,408.53 611.80,411.90 C615.20,415.63 618.14,420.61 621.40,424.70 C624.54,428.63 627.41,432.87 631.00,436.00 C634.41,438.98 638.30,441.25 642.30,443.20 C646.33,445.16 650.62,446.58 655.10,447.70 C659.83,448.88 665.03,449.23 670.00,450.00" fill="none" stroke="#0f940f" stroke-width="1.7" stroke-linejoin="round" stroke-linecap="round" />
<path d="M383.00,450.80 L395.00,451.10 L409.90,451.80 L418.90,451.10 L427.80,453.30 L439.80,453.30 L448.80,455.30 L460.70,460.80 L470.00,460.90 L490.90,474.50 L501.30,482.60 L515.00,494.60 L528.60,489.00 L531.80,491.40 L547.10,519.00 L563.90,481.00 L570.40,483.40 L582.80,498.80 L598.90,464.10 L605.30,458.50 L616.60,461.70 L624.60,458.50 L634.20,452.50 L643.90,450.00 L655.10,449.60 L670.00,450.00" fill="none" stroke="#000" stroke-width="1.55" stroke-linejoin="round" stroke-linecap="round" stroke-dasharray="8.8,3.5,2.2,3.5" stroke-linecap="butt"/>
<path d="M383.00,449.60 C387.97,449.00 392.92,447.93 397.90,447.80 C402.89,447.67 407.93,449.13 412.90,448.80 C417.90,448.47 423.09,445.92 427.80,445.80 C432.01,445.70 436.13,447.95 439.80,447.60 C443.06,447.29 445.95,445.41 448.80,444.40 C451.39,443.49 453.84,441.99 456.20,441.80 C458.28,441.64 460.21,442.47 462.20,442.90 C464.21,443.33 466.09,444.81 468.20,444.40 C471.09,443.84 474.33,439.39 477.50,437.60 C480.40,435.97 483.38,434.82 486.40,433.90 C489.35,433.00 492.18,433.20 495.40,432.10 C499.53,430.69 504.63,425.73 508.90,425.40 C512.53,425.12 516.41,429.19 519.30,428.70 C521.70,428.29 523.41,426.37 525.30,424.20 C528.02,421.08 530.03,413.60 532.80,410.70 C534.67,408.74 536.92,406.72 538.80,407.00 C540.92,407.32 542.86,410.85 544.70,413.70 C547.20,417.57 548.89,425.17 551.50,428.70 C553.30,431.14 555.44,434.05 557.40,433.90 C559.68,433.72 562.19,428.84 564.20,425.70 C566.46,422.18 567.77,416.21 570.00,413.60 C571.47,411.88 573.31,410.06 574.80,410.30 C576.55,410.59 578.05,413.96 579.60,416.70 C581.88,420.74 583.37,428.09 586.10,432.80 C588.57,437.07 591.88,443.52 594.90,444.00 C597.25,444.38 599.56,440.84 602.10,439.20 C604.90,437.39 608.10,433.42 611.00,433.60 C614.01,433.79 616.77,438.47 619.80,440.80 C622.89,443.17 625.75,446.48 629.40,447.70 C633.21,448.98 638.01,447.82 642.30,448.00 C646.58,448.18 650.67,448.48 655.10,448.80 C659.88,449.14 665.03,449.60 670.00,450.00" fill="none" stroke="#ff1111" stroke-width="1.7" stroke-linejoin="round" stroke-linecap="round" />
<path d="M383.00,451.40 C389.47,451.53 395.70,451.51 402.40,451.80 C409.60,452.12 418.09,452.63 424.80,453.30 C430.31,453.85 435.11,454.42 439.80,455.30 C444.02,456.09 447.87,457.19 451.70,458.20 C455.32,459.16 458.98,460.12 462.20,461.20 C465.02,462.14 467.32,462.78 470.00,464.20 C473.27,465.94 476.80,468.92 480.20,471.30 C483.60,473.69 487.39,475.96 490.40,478.50 C493.12,480.79 495.42,483.03 497.60,485.70 C499.87,488.48 501.51,491.89 503.70,494.90 C505.94,497.99 508.43,501.21 510.90,504.00 C513.21,506.61 515.48,508.92 518.00,511.20 C520.57,513.53 523.59,515.54 526.20,517.80 C528.72,519.98 531.06,522.21 533.40,524.50 C535.73,526.78 537.51,529.52 540.20,531.50 C543.11,533.65 546.91,536.27 550.40,536.70 C553.75,537.11 557.18,535.50 560.70,534.30 C564.66,532.94 569.33,530.81 572.90,528.70 C576.01,526.86 578.52,525.09 581.10,522.60 C584.02,519.78 586.42,516.11 589.30,512.40 C592.67,508.06 596.30,502.58 600.00,498.10 C603.54,493.81 607.57,489.98 611.00,486.00 C614.20,482.29 616.86,478.38 620.00,475.00 C623.00,471.77 626.14,468.76 629.40,466.10 C632.52,463.55 635.87,461.15 639.10,459.30 C642.00,457.63 644.73,456.54 647.80,455.30 C651.11,453.96 654.66,452.46 658.30,451.60 C662.05,450.71 666.10,450.60 670.00,450.10" fill="none" stroke="#0a0aff" stroke-width="1.7" stroke-linejoin="round" stroke-linecap="round" />
</g>
<rect x="382.70" y="334.20" width="287.40" height="231.60" fill="none" stroke="#000" stroke-width="1.6" stroke-linejoin="round"/>
<g transform="translate(365.16,339.48) scale(1,1.03)" stroke="#000" stroke-width="0.22"><path transform="translate(0.000,0) scale(15)" d="M0.373,0 L0.373,-0.709 L0.318,-0.709 C0.300,-0.650 0.230,-0.575 0.105,-0.565 L0.105,-0.500 L0.283,-0.500 L0.283,0 Z" fill="#000" stroke-width="0.0147"/></g>
<g transform="translate(365.16,454.33) scale(1,1.03)" stroke="#000" stroke-width="0.22"><text x="0.000" y="0" font-size="15">0</text></g>
<g transform="translate(356.82,568.73) scale(1,1.03)" stroke="#000" stroke-width="0.22"><path transform="translate(0.000,0) scale(15)" d="M0.035,-0.318 L0.556,-0.318 L0.556,-0.245 L0.035,-0.245 Z" fill="#000" stroke-width="0.0147"/><path transform="translate(8.340,0) scale(15)" d="M0.373,0 L0.373,-0.709 L0.318,-0.709 C0.300,-0.650 0.230,-0.575 0.105,-0.565 L0.105,-0.500 L0.283,-0.500 L0.283,0 Z" fill="#000" stroke-width="0.0147"/></g>
<g transform="translate(379.03,586.73) scale(1,1.03)" stroke="#000" stroke-width="0.22"><text x="0.000" y="0" font-size="15">0</text></g>
<g transform="translate(658.09,586.73) scale(1,1.03)" stroke="#000" stroke-width="0.22"><path transform="translate(0.000,0) scale(15)" d="M0.373,0 L0.373,-0.709 L0.318,-0.709 C0.300,-0.650 0.230,-0.575 0.105,-0.565 L0.105,-0.500 L0.283,-0.500 L0.283,0 Z" fill="#000" stroke-width="0.0147"/><text x="8.340" y="0" font-size="15">0</text><text x="16.680" y="0" font-size="15">0</text></g>
<text transform="translate(526.70,613.60) scale(1,1.03)" font-size="15" text-anchor="middle" stroke="#000" stroke-width="0.22"><tspan font-style="italic">t</tspan> (fs)</text>
<text transform="translate(343.2,450.00) rotate(-90) scale(1,1.03)" font-size="15" text-anchor="middle" stroke="#000" stroke-width="0.22">Stokes parameters (a.u.)</text>
<text transform="translate(329.20,335.00) scale(1,1.0)" font-size="21.5" text-anchor="start" font-weight="bold" font-style="normal" stroke="#000" stroke-width="0.45">e</text>
<line x1="394.70" y1="492.80" x2="431.00" y2="492.80" stroke="#0f940f" stroke-width="1.6" />
<text transform="translate(440.80,498.70) scale(1,1.03)" font-size="15" text-anchor="start" font-weight="normal" font-style="italic"  stroke="#000" stroke-width="0.22">I</text>
<line x1="394.70" y1="511.80" x2="428.30" y2="511.80" stroke="#000" stroke-width="1.6" stroke-dasharray="8.8,3.5,2.2,3.5"/>
<text transform="translate(440.80,517.70) scale(1,1.03)" font-size="15" text-anchor="start" font-weight="normal" font-style="italic"  stroke="#000" stroke-width="0.22">Q</text>
<line x1="394.70" y1="530.80" x2="431.00" y2="530.80" stroke="#ff1111" stroke-width="1.6" />
<text transform="translate(440.80,536.70) scale(1,1.03)" font-size="15" text-anchor="start" font-weight="normal" font-style="italic"  stroke="#000" stroke-width="0.22">U</text>
<line x1="394.70" y1="549.80" x2="431.00" y2="549.80" stroke="#0a0aff" stroke-width="1.6" />
<text transform="translate(440.80,555.70) scale(1,1.03)" font-size="15" text-anchor="start" font-weight="normal" font-style="italic"  stroke="#000" stroke-width="0.22">V</text>
<clipPath id="clipf"><rect x="383.9" y="653.7" width="285.0" height="229.19999999999993"/></clipPath>
<line x1="383.90" y1="768.30" x2="386.90" y2="768.30" stroke="#000" stroke-width="1" />
<line x1="668.90" y1="768.30" x2="665.90" y2="768.30" stroke="#000" stroke-width="1" />
<g clip-path="url(#clipf)">
<path d="M383.70,767.30 C387.47,767.07 390.97,766.87 395.00,766.60 C399.62,766.29 404.95,766.11 409.90,765.50 C414.88,764.88 419.82,763.77 424.80,762.90 C429.79,762.03 435.36,761.84 439.80,760.30 C443.74,758.93 446.85,756.65 450.30,754.60 C453.81,752.52 457.57,750.15 460.70,747.90 C463.46,745.92 465.97,744.22 468.20,741.90 C470.49,739.51 472.35,736.40 474.20,733.70 C475.93,731.17 477.02,729.01 479.00,726.20 C481.74,722.32 486.47,716.87 489.40,712.80 C491.74,709.55 493.53,707.19 495.40,703.80 C497.58,699.86 499.15,694.75 501.40,690.40 C503.65,686.04 506.30,680.88 508.90,677.70 C510.81,675.37 512.63,674.00 514.80,672.40 C517.08,670.72 519.83,669.91 522.30,667.90 C525.34,665.43 528.23,660.56 531.30,658.20 C533.76,656.31 536.46,654.18 538.80,654.20 C540.89,654.22 542.80,655.80 544.70,657.50 C547.32,659.84 549.70,664.42 552.20,667.90 C554.70,671.39 556.88,674.94 559.70,678.40 C562.76,682.15 566.92,685.61 570.00,689.50 C573.00,693.29 575.45,697.05 578.00,701.40 C580.85,706.26 583.36,712.22 586.10,717.40 C588.73,722.38 591.30,727.45 594.10,731.90 C596.65,735.95 599.15,739.61 602.10,743.10 C605.05,746.58 608.31,749.89 611.80,752.80 C615.28,755.69 619.13,758.56 623.00,760.50 C626.61,762.31 630.30,763.27 634.20,764.30 C638.31,765.39 642.21,766.16 647.10,766.80 C653.42,767.63 661.70,767.80 669.00,768.30" fill="none" stroke="#0f940f" stroke-width="1.7" stroke-linejoin="round" stroke-linecap="round" />
<path d="M383.70,768.10 L402.40,768.10 L417.40,768.10 L435.30,765.40 L447.30,768.10 L460.70,763.60 L470.00,763.60 L482.80,761.20 L495.70,762.80 L511.00,748.40 L524.20,769.50 L528.50,770.40 L540.80,745.00 L546.10,745.90 L563.60,775.70 L576.70,758.10 L588.10,772.20 L598.60,772.20 L605.30,769.60 L618.20,769.20 L634.20,768.80 L669.00,768.40" fill="none" stroke="#000" stroke-width="1.55" stroke-linejoin="round" stroke-linecap="round" stroke-dasharray="8.8,3.5,2.2,3.5" stroke-linecap="butt"/>
<path d="M383.70,768.40 C389.93,768.43 396.23,768.30 402.40,768.50 C408.46,768.70 415.24,768.90 420.40,769.60 C424.36,770.14 427.45,771.73 430.80,771.80 C433.90,771.87 436.98,769.99 439.80,770.30 C442.46,770.59 444.70,772.22 447.30,773.30 C450.15,774.48 453.05,776.69 456.20,777.10 C459.50,777.53 464.22,775.28 466.70,775.60 C468.14,775.79 468.66,776.42 470.00,777.00 C472.09,777.90 475.15,779.66 478.00,780.50 C481.03,781.40 484.74,780.94 487.70,782.10 C490.63,783.25 493.07,785.80 495.70,787.40 C498.13,788.88 500.59,791.65 502.90,791.40 C505.40,791.12 507.75,787.52 510.10,785.00 C512.86,782.04 515.52,774.76 518.20,774.50 C520.35,774.29 522.85,777.57 524.60,780.10 C526.82,783.32 527.40,789.89 529.40,793.00 C530.80,795.19 532.65,797.90 534.20,797.80 C535.89,797.69 537.58,794.27 539.10,791.40 C541.52,786.84 543.02,777.43 545.50,772.10 C547.42,767.97 549.71,761.88 551.90,761.70 C553.73,761.55 555.78,765.54 557.50,768.10 C559.59,771.21 561.12,776.69 563.10,779.30 C564.42,781.03 565.76,783.07 567.20,783.00 C568.96,782.92 571.24,779.06 572.80,776.90 C574.28,774.85 575.09,772.67 576.40,770.40 C577.87,767.86 579.26,763.95 581.20,762.40 C582.64,761.25 584.43,760.52 586.10,760.80 C588.18,761.14 590.25,764.14 592.50,765.60 C594.78,767.08 597.23,769.24 599.70,769.60 C602.04,769.94 604.43,768.59 606.90,768.00 C609.53,767.37 612.06,766.14 615.00,765.90 C618.41,765.62 622.13,766.62 626.20,766.90 C631.08,767.24 636.26,767.47 642.30,767.70 C650.08,768.00 660.10,768.17 669.00,768.40" fill="none" stroke="#ff1111" stroke-width="1.7" stroke-linejoin="round" stroke-linecap="round" />
<path d="M383.70,768.80 C389.93,769.07 396.51,769.24 402.40,769.60 C407.68,769.92 412.70,770.26 417.40,770.80 C421.61,771.29 425.48,771.77 429.30,772.60 C432.94,773.39 436.36,774.27 439.80,775.60 C443.36,776.98 446.73,778.78 450.30,780.80 C454.25,783.04 458.62,785.12 462.40,788.60 C466.89,792.73 470.62,799.48 474.80,804.70 C478.89,809.80 483.25,814.13 487.20,819.60 C491.55,825.62 495.51,832.74 499.60,839.50 C503.78,846.40 507.31,855.19 512.00,860.60 C515.77,864.95 520.41,867.68 524.40,870.50 C527.84,872.93 531.38,875.38 534.40,876.70 C536.64,877.68 538.40,878.60 540.60,878.40 C543.30,878.15 546.57,876.48 549.30,874.20 C552.90,871.19 555.68,865.31 559.20,860.60 C563.07,855.41 567.87,850.02 571.60,844.40 C575.29,838.85 578.04,833.25 581.50,827.10 C585.42,820.13 589.35,811.22 593.90,804.70 C597.91,798.96 602.57,794.05 606.90,789.70 C610.67,785.91 614.12,782.49 618.20,779.80 C622.17,777.19 626.52,775.31 631.00,773.70 C635.60,772.05 640.04,770.92 645.50,770.10 C652.35,769.07 661.17,769.23 669.00,768.80" fill="none" stroke="#0a0aff" stroke-width="1.7" stroke-linejoin="round" stroke-linecap="round" />
</g>
<rect x="383.90" y="653.70" width="285.00" height="229.20" fill="none" stroke="#000" stroke-width="1.6" stroke-linejoin="round"/>
<g transform="translate(366.36,659.58) scale(1,1.03)" stroke="#000" stroke-width="0.22"><path transform="translate(0.000,0) scale(15)" d="M0.373,0 L0.373,-0.709 L0.318,-0.709 C0.300,-0.650 0.230,-0.575 0.105,-0.565 L0.105,-0.500 L0.283,-0.500 L0.283,0 Z" fill="#000" stroke-width="0.0147"/></g>
<g transform="translate(366.36,772.98) scale(1,1.03)" stroke="#000" stroke-width="0.22"><text x="0.000" y="0" font-size="15">0</text></g>
<g transform="translate(358.02,886.03) scale(1,1.03)" stroke="#000" stroke-width="0.22"><path transform="translate(0.000,0) scale(15)" d="M0.035,-0.318 L0.556,-0.318 L0.556,-0.245 L0.035,-0.245 Z" fill="#000" stroke-width="0.0147"/><path transform="translate(8.340,0) scale(15)" d="M0.373,0 L0.373,-0.709 L0.318,-0.709 C0.300,-0.650 0.230,-0.575 0.105,-0.565 L0.105,-0.500 L0.283,-0.500 L0.283,0 Z" fill="#000" stroke-width="0.0147"/></g>
<g transform="translate(380.23,903.93) scale(1,1.03)" stroke="#000" stroke-width="0.22"><text x="0.000" y="0" font-size="15">0</text></g>
<g transform="translate(656.89,903.93) scale(1,1.03)" stroke="#000" stroke-width="0.22"><path transform="translate(0.000,0) scale(15)" d="M0.373,0 L0.373,-0.709 L0.318,-0.709 C0.300,-0.650 0.230,-0.575 0.105,-0.565 L0.105,-0.500 L0.283,-0.500 L0.283,0 Z" fill="#000" stroke-width="0.0147"/><text x="8.340" y="0" font-size="15">0</text><text x="16.680" y="0" font-size="15">0</text></g>
<text transform="translate(526.70,931.90) scale(1,1.03)" font-size="15" text-anchor="middle" stroke="#000" stroke-width="0.22"><tspan font-style="italic">t</tspan> (fs)</text>
<text transform="translate(343.2,768.30) rotate(-90) scale(1,1.03)" font-size="15" text-anchor="middle" stroke="#000" stroke-width="0.22">Stokes parameters (a.u.)</text>
<text transform="translate(329.20,655.50) scale(1,1.0)" font-size="21.5" text-anchor="start" font-weight="bold" font-style="normal" stroke="#000" stroke-width="0.45">f</text>
<line x1="395.90" y1="810.70" x2="432.20" y2="810.70" stroke="#0f940f" stroke-width="1.6" />
<text transform="translate(442.00,816.60) scale(1,1.03)" font-size="15" text-anchor="start" font-weight="normal" font-style="italic"  stroke="#000" stroke-width="0.22">I</text>
<line x1="395.90" y1="829.60" x2="429.50" y2="829.60" stroke="#000" stroke-width="1.6" stroke-dasharray="8.8,3.5,2.2,3.5"/>
<text transform="translate(442.00,835.50) scale(1,1.03)" font-size="15" text-anchor="start" font-weight="normal" font-style="italic"  stroke="#000" stroke-width="0.22">Q</text>
<line x1="395.90" y1="848.50" x2="432.20" y2="848.50" stroke="#ff1111" stroke-width="1.6" />
<text transform="translate(442.00,854.40) scale(1,1.03)" font-size="15" text-anchor="start" font-weight="normal" font-style="italic"  stroke="#000" stroke-width="0.22">U</text>
<line x1="395.90" y1="867.40" x2="432.20" y2="867.40" stroke="#0a0aff" stroke-width="1.6" />
<text transform="translate(442.00,873.30) scale(1,1.03)" font-size="15" text-anchor="start" font-weight="normal" font-style="italic"  stroke="#000" stroke-width="0.22">V</text>
</svg>
</body></html>
